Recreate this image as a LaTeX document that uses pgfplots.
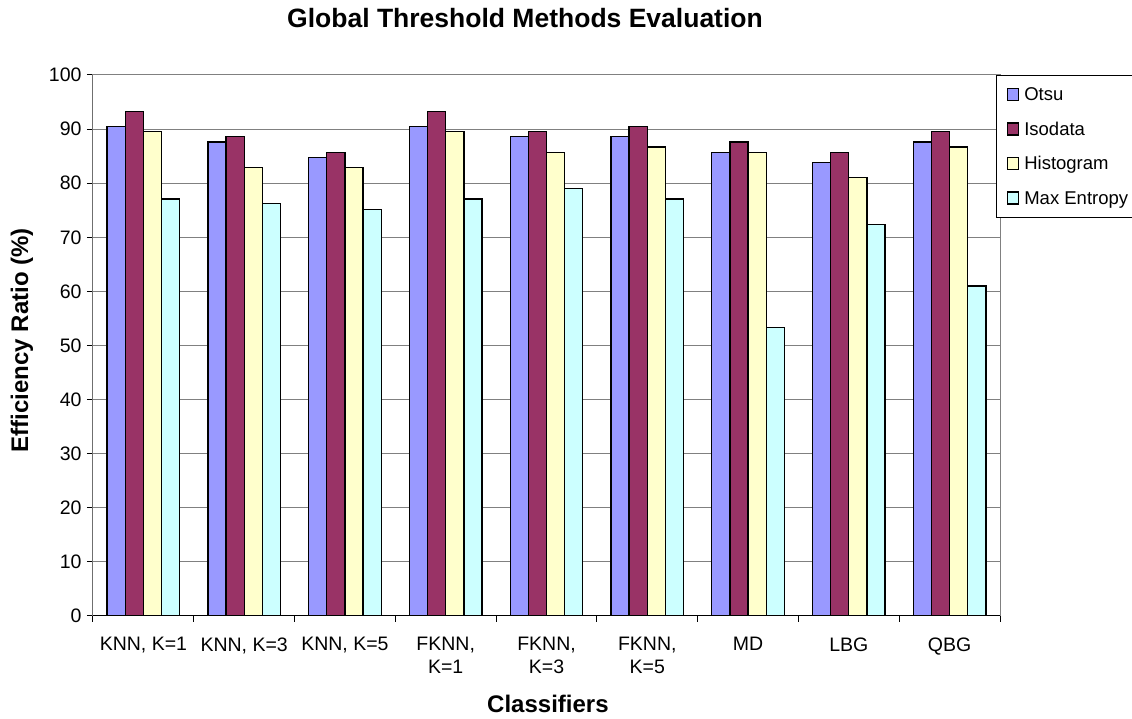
\documentclass[border=0pt]{standalone}
\usepackage{pgfplots}
\pgfplotsset{compat=1.18}
\usepackage{fontspec}
\setmainfont{Liberation Sans}
\definecolor{otsu}{HTML}{9999FF}
\definecolor{isodata}{HTML}{993366}
\definecolor{histo}{HTML}{FFFFCC}
\definecolor{maxent}{HTML}{CCFFFF}
\definecolor{gridgray}{HTML}{808080}
\pgfplotsset{sqlegend/.style={legend image code/.code={\draw[##1] (0pt,-6pt) rectangle (11.5pt,6pt);}}}
\begin{document}
\begin{tikzpicture}
\begin{axis}[
  scale only axis, width=907pt, height=541pt,
  ybar=0pt, bar width=0.18,
  xmin=-0.5, xmax=8.5, ymin=0, ymax=100,
  xtick={-0.5,0.5,1.5,2.5,3.5,4.5,5.5,6.5,7.5,8.5},
  x tick label as interval,
  xticklabels={{KNN, K=1},{KNN, K=3},{KNN, K=5},{FKNN,\\K=1},{FKNN,\\K=3},{FKNN,\\K=5},MD,LBG,QBG},
  ytick={0,10,...,100},
  tick pos=left,
  ymajorgrids, grid style={gridgray, line width=1pt},
  axis line style={gridgray, line width=1pt},
  tick style={black, line width=1pt},
  major tick length=6pt, tick align=outside,
  /pgf/number format/assume math mode=true,
  ticklabel style={font=\fontsize{19.5}{23}\selectfont},
  xticklabel style={align=center, yshift=-12pt},
  yticklabel style={xshift=-2pt},
  title={Global Threshold Methods Evaluation},
  title style={font=\bfseries\fontsize{26.5}{30}\selectfont, at={(axis description cs:0.4763,1.0758)}, anchor=base, inner sep=0pt},
  xlabel={Classifiers},
  xlabel style={font=\bfseries\fontsize{24}{28}\selectfont, at={(axis description cs:0.5016,-0.1775)}, anchor=base, inner sep=0pt},
  ylabel={Efficiency Ratio (\%)},
  ylabel style={font=\bfseries\fontsize{24}{28}\selectfont, at={(axis description cs:-0.0783,0.51)}, anchor=center, inner sep=0pt},
  legend style={at={(axis description cs:0.9956,1)}, anchor=north west, draw=black, line width=1pt, fill=white,
    inner xsep=10pt, inner ysep=12.5pt, row sep=21.2pt, column sep=5pt,
    font=\fontsize{18.5}{22}\selectfont,
    nodes={inner sep=0pt, text height=12pt, text depth=0pt}},
  legend cell align=left,
]
\addplot[fill=otsu, draw=black, line width=1.3pt, sqlegend]
  coordinates {(0,90.5) (1,87.6) (2,84.8) (3,90.5) (4,88.6) (5,88.6) (6,85.7) (7,83.8) (8,87.6)};
\addplot[fill=isodata, draw=black, line width=1.3pt, sqlegend]
  coordinates {(0,93.3) (1,88.6) (2,85.7) (3,93.3) (4,89.5) (5,90.5) (6,87.6) (7,85.7) (8,89.5)};
\addplot[fill=histo, draw=black, line width=1.3pt, sqlegend]
  coordinates {(0,89.5) (1,82.9) (2,82.9) (3,89.5) (4,85.7) (5,86.7) (6,85.7) (7,81.0) (8,86.7)};
\addplot[fill=maxent, draw=black, line width=1.3pt, sqlegend]
  coordinates {(0,77.1) (1,76.2) (2,75.2) (3,77.1) (4,79.0) (5,77.1) (6,53.3) (7,72.4) (8,61.0)};
\legend{Otsu,Isodata,Histogram,Max Entropy}
\draw[black, line width=1pt] (rel axis cs:0,1) -- (rel axis cs:0,0) -- (rel axis cs:1,0);
\end{axis}
\pgfresetboundingbox
\path[use as bounding box] (-93pt,-103pt) rectangle (1039pt,616pt);
\end{tikzpicture}
\end{document}
